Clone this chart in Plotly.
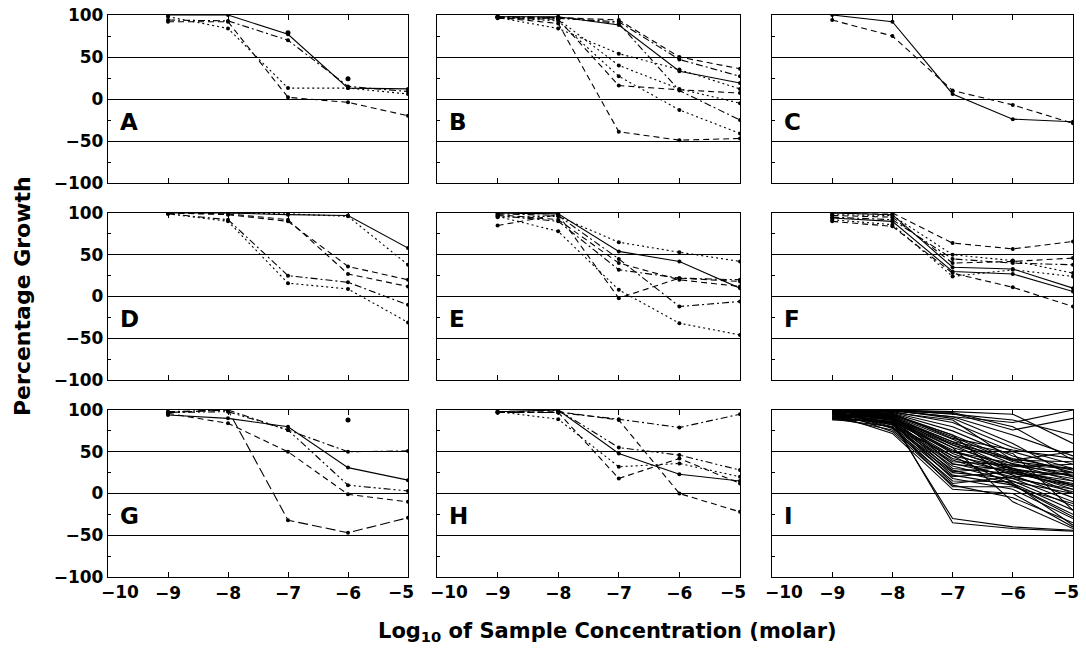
import plotly.graph_objects as go
from plotly.subplots import make_subplots

# ---------------- data ----------------
X = [-9, -8, -7, -6, -5]

SOLID = "solid"
DOT = "2px,3px"
DASH = "6px,4px"
LONGDASH = "10px,4px"
DASHDOT = "7px,3px,2px,3px"
DASHDOTDOT = "7px,3px,2px,3px,2px,3px"

A_values = [
    [100, 100, 77, 13, 12],
    [94, 93, 70, 15, 9],
    [98, 84, 13, 13, 6],
    [92, 92, 2, -4, -20],
]
A_dashes = [SOLID, DASHDOT, DOT, DASH]
A_extra_x = [-7, -6]
A_extra_y = [79, 24]

B_values = [
    [98, 98, 88, 33, 19],
    [98, 97, 94, 50, 36],
    [97, 96, 92, 47, 27],
    [97, 84, 54, 35, 12],
    [96, 95, 16, 11, 7],
    [97, 93, 27, -13, -41],
    [97, 90, -39, -49, -47],
    [98, 97, 90, 10, -25],
    [98, 95, 40, 12, -5],
]
B_dashes = [SOLID, DASH, DASHDOT, DOT, DASH, DOT, DASH, DASHDOT, DOT]

C_values = [
    [100, 92, 6, -24, -27],
    [94, 75, 10, -7, -29],
]
C_dashes = [SOLID, DASH]

D_values = [
    [100, 100, 98, 97, 58],
    [100, 100, 99, 96, 38],
    [100, 98, 90, 36, 20],
    [100, 99, 92, 27, 12],
    [99, 92, 25, 17, -10],
    [99, 90, 16, 9, -31],
]
D_dashes = [SOLID, DOT, DASH, DASH, DASHDOT, DOT]

E_values = [
    [100, 99, 54, 42, 10],
    [95, 96, 65, 53, 42],
    [98, 92, 40, 20, 12],
    [97, 90, 32, 22, 20],
    [96, 78, 8, -32, -46],
    [85, 98, -2, 22, 18],
    [99, 97, 45, -12, -6],
]
E_dashes = [SOLID, DOT, DASH, DASHDOT, DOT, DASH, DASHDOT]

F_values = [
    [94, 90, 30, 27, 6],
    [100, 98, 35, 33, 10],
    [100, 100, 64, 57, 66],
    [97, 95, 40, 42, 46],
    [95, 92, 45, 40, 38],
    [92, 86, 24, 32, 24],
    [90, 84, 28, 11, -12],
    [98, 97, 50, 43, 28],
]
F_dashes = [SOLID, SOLID, DASH, DASH, DASHDOT, DOT, DASH, DOT]

G_values = [
    [94, 90, 80, 31, 16],
    [98, 100, 76, 50, 51],
    [97, 98, 76, 10, 3],
    [96, 84, 50, -1, -10],
    [97, 100, -32, -47, -29],
]
G_dashes = [SOLID, DASHDOT, DASHDOTDOT, DASH, LONGDASH]
G_extra_x = [-6]
G_extra_y = [88]

H_values = [
    [98, 100, 48, 23, 15],
    [97, 97, 89, 79, 95],
    [97, 98, 88, 0, -22],
    [97, 100, 55, 46, 28],
    [98, 89, 32, 36, 20],
    [97, 97, 18, 42, 12],
]
H_dashes = [SOLID, DASHDOT, DASH, DASHDOTDOT, DOT, DASH]

I_values = [
    [100, 99, 96, 76, 90],
    [100, 100, 98, 95, 60],
    [92, 100, 97, 80, 40],
    [99, 100, 90, 60, 20],
    [100, 98, 85, 55, 35],
    [90, 97, 80, 50, 30],
    [100, 96, 75, 45, 25],
    [97, 95, 70, 40, 20],
    [89, 94, 68, 38, 30],
    [100, 93, 65, 35, 15],
    [96, 92, 62, 30, 10],
    [91, 90, 60, 42, 28],
    [100, 89, 58, 28, 5],
    [97, 88, 55, 33, 25],
    [88, 87, 52, 26, 12],
    [95, 86, 50, 36, 20],
    [100, 90, 48, 22, -5],
    [93, 88, 45, 30, 18],
    [96, 85, 42, 25, 8],
    [100, 92, 40, 18, -10],
    [90, 86, 38, 34, 30],
    [97, 84, 36, 20, 2],
    [100, 95, 35, 28, 22],
    [92, 83, 33, 15, -15],
    [96, 90, 30, 24, 10],
    [99, 82, 28, 12, -20],
    [100, 88, 26, 32, 35],
    [89, 80, 25, 18, 5],
    [95, 85, 22, 10, -25],
    [100, 78, 20, 26, 15],
    [98, 84, 18, 5, -30],
    [91, 76, 15, 14, 0],
    [99, 80, 12, 20, 25],
    [100, 74, 10, -5, -35],
    [94, 79, 8, 8, -12],
    [95, 72, 5, 0, -40],
    [98, 82, 45, 10, -28],
    [100, 94, 70, 12, -38],
    [93, 91, 55, -10, -42],
    [100, 97, 88, 40, 50],
    [98, 99, 92, 70, 45],
    [100, 100, 95, 88, 70],
    [90, 85, -30, -40, -44],
    [100, 88, -35, -42, -45],
    [97, 90, 62, 48, -20],
    [100, 93, 58, 40, 38],
    [98, 96, 66, 52, 42],
    [100, 91, 50, 30, 0],
    [100, 99, 92, 85, 100],
]

PANEL_LETTERS = ["A", "B", "C", "D", "E", "F", "G", "H", "I"]
X_TICKS = [-10, -9, -8, -7, -6, -5]
X_TICKTEXT = ["", "\u22129", "\u22128", "\u22127", "\u22126", ""]
X_END_LABELS = ["\u221210", "\u22125"]
Y_TICKS = [-100, -50, 0, 50, 100]
Y_TICKTEXT = ["\u2212100", "\u221250", "0", "50", "100"]

# ---------------- figure ----------------
W, H = 1086, 649
COL_PX = [(108, 408), (437, 740), (772, 1073)]
ROW_PX = [(15, 183), (213, 380), (410, 577)]
XLABEL_Y = 592

fig = make_subplots(rows=3, cols=3)

panels = [
    (A_values, A_dashes, A_extra_x, A_extra_y, True),
    (B_values, B_dashes, [], [], True),
    (C_values, C_dashes, [], [], True),
    (D_values, D_dashes, [], [], True),
    (E_values, E_dashes, [], [], True),
    (F_values, F_dashes, [], [], True),
    (G_values, G_dashes, G_extra_x, G_extra_y, True),
    (H_values, H_dashes, [], [], True),
    (I_values, [SOLID] * len(I_values), [], [], False),
]

FONT = "DejaVu Sans"
TICKFONT = dict(family=FONT, size=17, color="black", weight="bold")

for idx, (vals, dashes, ex, ey, markers) in enumerate(panels):
    r, c = idx // 3 + 1, idx % 3 + 1
    for v, d in zip(vals, dashes):
        fig.add_trace(
            go.Scatter(
                x=X, y=v,
                mode="lines+markers" if markers else "lines",
                line=dict(color="black", width=1.1, dash=d),
                marker=dict(size=4, color="black"),
                showlegend=False, hoverinfo="skip",
            ),
            row=r, col=c,
        )
    if ex:
        fig.add_trace(
            go.Scatter(x=ex, y=ey, mode="markers",
                       marker=dict(size=5, color="black"),
                       showlegend=False, hoverinfo="skip"),
            row=r, col=c,
        )

for idx in range(9):
    r, c = idx // 3, idx % 3
    n = idx + 1
    xa = "xaxis" if n == 1 else f"xaxis{n}"
    ya = "yaxis" if n == 1 else f"yaxis{n}"
    xref = f"x{n if n > 1 else ''}"
    yref = f"y{n if n > 1 else ''}"
    x0, x1 = COL_PX[c]
    y0, y1 = ROW_PX[r]
    fig.layout[xa].update(
        domain=[x0 / W, x1 / W], range=[-10, -5], automargin=False,
        ticklabeloverflow="allow",
        tickmode="array", tickvals=X_TICKS, ticktext=X_TICKTEXT,
        showticklabels=(r == 2), ticks="inside", ticklen=5, tickcolor="black",
        showline=True, linecolor="black", linewidth=1.3, mirror="ticks",
        showgrid=False, zeroline=False, tickfont=TICKFONT,
    )
    fig.layout[ya].update(
        domain=[1 - y1 / H, 1 - y0 / H], range=[-100, 100],
        automargin=False, ticklabeloverflow="allow",
        tickmode="array", tickvals=Y_TICKS, ticktext=Y_TICKTEXT,
        showticklabels=(c == 0), ticks="inside", ticklen=5, tickcolor="black",
        minor=dict(tickvals=[-75, -25, 25, 75], ticks="inside", ticklen=3,
                   tickcolor="black", showgrid=False),
        showline=True, linecolor="black", linewidth=1.3, mirror=True,
        showgrid=True, gridcolor="black", gridwidth=1, zeroline=False,
        tickfont=TICKFONT,
    )
    fig.add_annotation(
        x=-9.83, y=-27, xref=xref, yref=yref,
        text=PANEL_LETTERS[idx], showarrow=False, xanchor="left", yanchor="middle",
        font=dict(family=FONT, size=23, color="black", weight="bold"),
    )
    if r == 2:
        # end-of-axis labels, nudged apart as in the original
        fig.add_annotation(
            x=X_TICKS[0], y=1 - XLABEL_Y / H, xref=xref, yref="paper",
            text=X_END_LABELS[0], showarrow=False, xanchor="left",
            yanchor="middle", xshift=-9, font=TICKFONT,
        )
        fig.add_annotation(
            x=X_TICKS[-1], y=1 - XLABEL_Y / H, xref=xref, yref="paper",
            text=X_END_LABELS[1], showarrow=False, xanchor="right",
            yanchor="middle", xshift=8, font=TICKFONT,
        )

fig.add_annotation(
    x=22 / W, y=1 - 296 / H, xref="paper", yref="paper",
    text="Percentage Growth", textangle=-90, showarrow=False,
    xanchor="center", yanchor="middle",
    font=dict(family=FONT, size=22, color="black", weight="bold"),
)
fig.add_annotation(
    x=607 / W, y=1 - 632 / H, xref="paper", yref="paper",
    text="Log<sub>10</sub> of Sample Concentration (molar)", showarrow=False,
    xanchor="center", yanchor="middle",
    font=dict(family=FONT, size=21, color="black", weight="bold"),
)

fig.update_layout(
    width=W, height=H, autosize=False,
    margin=dict(l=0, r=0, t=0, b=0),
    paper_bgcolor="white", plot_bgcolor="white",
)

fig.write_html(
    "out.html",
    config={"displayModeBar": False},
    post_script="document.body.style.margin='0';document.body.style.padding='0';",
)
